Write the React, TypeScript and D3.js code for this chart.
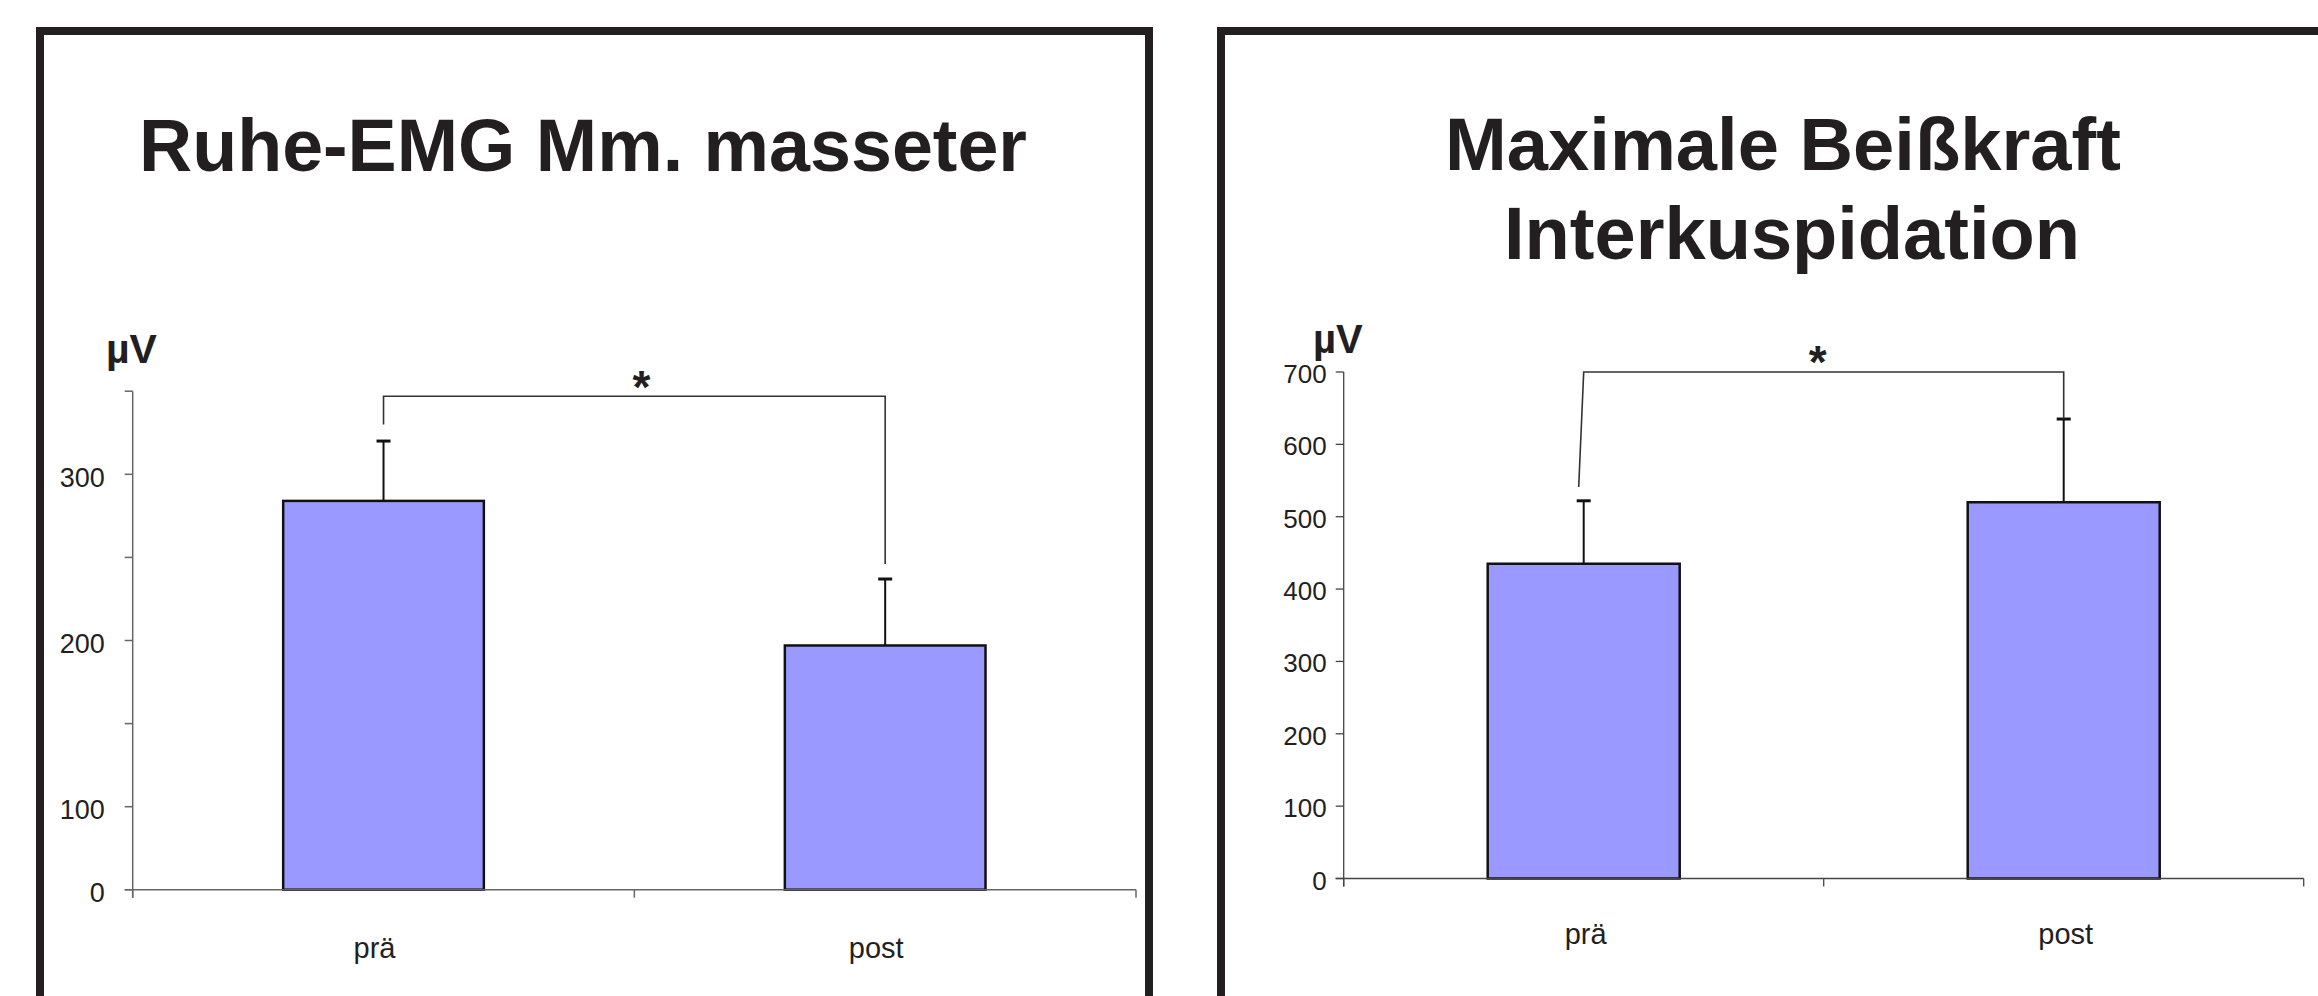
import React, { useEffect } from "react";
import * as d3 from "d3";

// ---------- data ----------
const categories = ["prä", "post"];

// Ruhe-EMG Mm. masseter (µV)
const emgMeans = [284, 197];
const emgErrPlus = [36, 40];
const emgTicks = [350, 300, 250, 200, 150, 100, 0];
const emgTickLabels = [300, 200, 100, 0];
const emgBracket = [347, 330, 246]; // top, left leg end, right leg end

// Maximale Beißkraft Interkuspidation (µV)
const forceMeans = [435, 520];
const forceErrPlus = [87, 115];
const forceTicks = [0, 100, 200, 300, 400, 500, 600, 700];
const forceTickLabels = [0, 100, 200, 300, 400, 500, 600, 700];
const forceBracket = [700, 541, 635];

const FONT = "'Liberation Sans', Arial, Helvetica, sans-serif";
const BAR_FILL = "#9999FF";
const INK = "#231F20";

type PanelProps = {
  means: number[];
  errs: number[];
  ticks: number[];
  tickLabels: number[];
  bracket: number[];
  y: d3.ScaleLinear<number, number>;
  x: d3.ScaleBand<string>;
  axisColor: string;
  axisWidth: number;
  tickFont: number;
  tickGap: number;
  tickDy: number;
  catFont: number;
  catY: number;
  catDx: number;
  unitX: number;
  unitY: number;
  unitFont: number;
  starDx: number;
  starY: number;
  leftLegSlant: number;
};

function Panel(p: PanelProps) {
  const { x, y } = p;
  const [x0, x1] = x.range();
  const y0 = y(0);
  const yTop = y(d3.max(p.ticks) as number);
  const step = x.step();
  const catBoundaries = d3.range(categories.length + 1).map((i) => x0 + i * step);
  const cx = (c: string) => (x(c) as number) + x.bandwidth() / 2;
  const [bTop, bLeft, bRight] = p.bracket;
  const lx = cx(categories[0]);
  const rx = cx(categories[1]);
  return (
    <g>
      {/* y axis */}
      <line x1={x0} x2={x0} y1={yTop} y2={y0 + 8} stroke={p.axisColor} strokeWidth={p.axisWidth} />
      {p.ticks.map((t) => (
        <line key={"t" + t} x1={x0 - 8} x2={x0} y1={y(t)} y2={y(t)} stroke={p.axisColor} strokeWidth={p.axisWidth} />
      ))}
      {p.tickLabels.map((t) => (
        <text
          key={"l" + t}
          x={x0 - p.tickGap}
          y={y(t) + p.tickDy}
          textAnchor="end"
          fontFamily={FONT}
          fontSize={p.tickFont}
          fill={INK}
        >
          {t}
        </text>
      ))}
      {/* bars */}
      {categories.map((c, i) => (
        <rect
          key={"b" + c}
          x={x(c)}
          y={y(p.means[i])}
          width={x.bandwidth()}
          height={y0 - y(p.means[i])}
          fill={BAR_FILL}
          stroke="#111"
          strokeWidth={2.5}
        />
      ))}
      {/* error bars */}
      {categories.map((c, i) => {
        const top = y(p.means[i] + p.errs[i]);
        return (
          <g key={"e" + c}>
            <line x1={cx(c)} x2={cx(c)} y1={y(p.means[i])} y2={top} stroke="#111" strokeWidth={2} />
            <line x1={cx(c) - 7} x2={cx(c) + 7} y1={top} y2={top} stroke="#111" strokeWidth={3} />
          </g>
        );
      })}
      {/* x axis */}
      <line x1={x0 - 8} x2={x1} y1={y0} y2={y0} stroke={p.axisColor} strokeWidth={p.axisWidth} />
      {catBoundaries.map((bx, i) => (
        <line key={"xb" + i} x1={bx} x2={bx} y1={y0} y2={y0 + 8} stroke={p.axisColor} strokeWidth={p.axisWidth} />
      ))}
      {categories.map((c) => (
        <text
          key={"c" + c}
          x={cx(c) + p.catDx}
          y={p.catY}
          textAnchor="middle"
          fontFamily={FONT}
          fontSize={p.catFont}
          fill={INK}
        >
          {c}
        </text>
      ))}
      {/* significance bracket */}
      <path
        d={`M${lx + p.leftLegSlant},${y(bLeft)} L${lx},${y(bTop)} L${rx},${y(bTop)} L${rx},${y(bRight)}`}
        fill="none"
        stroke="#333"
        strokeWidth={1.6}
      />
      <text
        x={(lx + rx) / 2 + p.starDx}
        y={p.starY}
        textAnchor="middle"
        fontFamily={FONT}
        fontWeight="bold"
        fontSize={46}
        fill={INK}
      >
        *
      </text>
      {/* unit */}
      <text x={p.unitX} y={p.unitY} fontFamily={FONT} fontWeight="bold" fontSize={p.unitFont} fill={INK}>
        µV
      </text>
    </g>
  );
}

export default function App() {
  useEffect(() => {
    document.body.style.margin = "0";
    document.body.style.overflow = "hidden";
  }, []);

  const yEmg = d3.scaleLinear().domain([0, 100, 350]).range([889.7, 806.7, 391.2]);
  const xEmg = d3.scaleBand<string>().domain(categories).range([132.7, 1136]).paddingInner(0.6).paddingOuter(0.3);

  const yForce = d3.scaleLinear().domain([0, 700]).range([878.5, 372]);
  const xForce = d3.scaleBand<string>().domain(categories).range([1343.7, 2303.7]).paddingInner(0.6).paddingOuter(0.3);

  return (
    <svg width={2318} height={996} style={{ display: "block", background: "#fff" }}>
      <rect x={0} y={0} width={2318} height={996} fill="#fff" />
      {/* panel frames */}
      <rect x={40} y={31} width={1109} height={1100} fill="none" stroke={INK} strokeWidth={8} />
      <rect x={1221} y={31} width={1200} height={1100} fill="none" stroke={INK} strokeWidth={8} />

      {/* titles */}
      <text x={139} y={171} fontFamily={FONT} fontWeight="bold" fontSize={74} fill={INK} textLength={888} lengthAdjust="spacingAndGlyphs">
        Ruhe-EMG Mm. masseter
      </text>
      <text x={1445} y={170} fontFamily={FONT} fontWeight="bold" fontSize={74} fill={INK} textLength={676} lengthAdjust="spacingAndGlyphs">
        Maximale Beißkraft
      </text>
      <text x={1504} y={259} fontFamily={FONT} fontWeight="bold" fontSize={74} fill={INK} textLength={576} lengthAdjust="spacingAndGlyphs">
        Interkuspidation
      </text>

      <Panel
        means={emgMeans}
        errs={emgErrPlus}
        ticks={emgTicks}
        tickLabels={emgTickLabels}
        bracket={emgBracket}
        y={yEmg}
        x={xEmg}
        axisColor="#666"
        axisWidth={1.5}
        tickFont={27}
        tickGap={28}
        tickDy={12.5}
        catFont={29}
        catY={958}
        catDx={-9}
        unitX={106}
        unitY={363}
        unitFont={41}
        starDx={7}
        starY={403}
        leftLegSlant={0}
      />
      <Panel
        means={forceMeans}
        errs={forceErrPlus}
        ticks={forceTicks}
        tickLabels={forceTickLabels}
        bracket={forceBracket}
        y={yForce}
        x={xForce}
        axisColor="#444"
        axisWidth={1.3}
        tickFont={26}
        tickGap={17}
        tickDy={11}
        catFont={29}
        catY={944}
        catDx={2}
        unitX={1313}
        unitY={353}
        unitFont={40}
        starDx={-6}
        starY={378}
        leftLegSlant={-5}
      />
    </svg>
  );
}
